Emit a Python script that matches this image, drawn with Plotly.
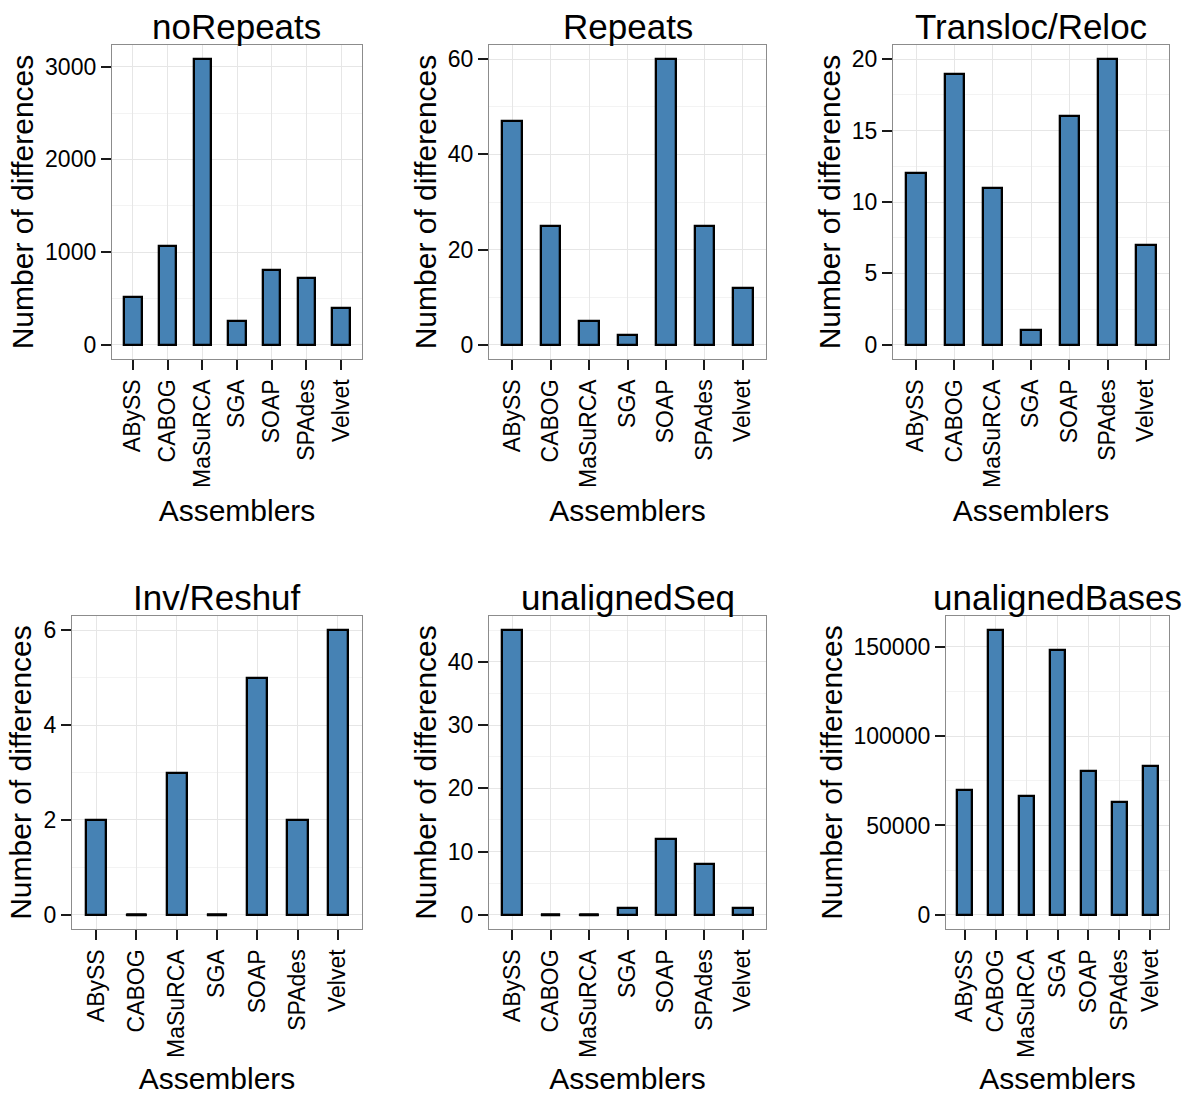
import plotly.graph_objects as go

assemblers = ["ABySS", "CABOG", "MaSuRCA", "SGA", "SOAP", "SPAdes", "Velvet"]

panel_titles = ["noRepeats", "Repeats", "Transloc/Reloc",
                "Inv/Reshuf", "unalignedSeq", "unalignedBases"]

no_repeats = [510, 1065, 3080, 255, 805, 715, 395]
repeats = [47, 25, 5, 2, 60, 25, 12]
transloc_reloc = [12, 19, 11, 1, 16, 20, 7]
inv_reshuf = [2, 0, 3, 0, 5, 2, 6]
unaligned_seq = [45, 0, 0, 1, 12, 8, 1]
unaligned_bases = [69800, 159300, 66700, 148100, 80400, 62900, 83500]

series = [no_repeats, repeats, transloc_reloc, inv_reshuf, unaligned_seq, unaligned_bases]
major_dtick = [1000, 20, 5, 2, 10, 50000]

x_label = "Assemblers"
y_label = "Number of differences"

W, H = 1195, 1095
# panel rectangles in page pixels: (left, right, top, bottom)
panels_px = [
    (112, 362, 45, 359),
    (489, 766, 45, 359),
    (893, 1169, 45, 359),
    (72, 362, 616, 929),
    (489, 766, 616, 929),
    (946, 1169, 616, 929),
]

FONT = "Liberation Sans, Arial, Helvetica, sans-serif"
BAR_W = 0.5

fig = go.Figure()
annotations = []

for i, (vals, rect) in enumerate(zip(series, panels_px)):
    n = i + 1
    xa = "x" if n == 1 else f"x{n}"
    ya = "y" if n == 1 else f"y{n}"
    xs = list(range(len(assemblers)))
    fig.add_trace(go.Bar(
        x=xs, y=vals, width=BAR_W, xaxis=xa, yaxis=ya,
        marker=dict(color="#4682B4", line=dict(color="black", width=2.3)),
        showlegend=False, hoverinfo="x+y",
    ))
    # zero-height bars are drawn by ggplot as a flat outline
    zx, zy = [], []
    for xi, v in zip(xs, vals):
        if v == 0:
            zx += [xi - BAR_W / 2, xi + BAR_W / 2, None]
            zy += [0, 0, None]
    if zx:
        fig.add_trace(go.Scatter(
            x=zx, y=zy, mode="lines", xaxis=xa, yaxis=ya,
            line=dict(color="black", width=3), showlegend=False, hoverinfo="skip",
        ))

    l, r, t, b = rect
    xdom = [l / W, r / W]
    ydom = [1 - b / H, 1 - t / H]
    vmax = max(vals)
    yr = [-0.05 * vmax, 1.05 * vmax]
    dt = major_dtick[i]

    axis_common = dict(
        showline=True, mirror=True, linecolor="#8c8c8c", linewidth=1.3,
        ticks="outside", ticklen=10, tickwidth=2, tickcolor="#1a1a1a",
        tickfont=dict(family=FONT, size=23, color="black"),
        zeroline=False,
        title_font=dict(family=FONT, size=30, color="black"),
    )
    fig.update_layout({
        ("xaxis" if n == 1 else f"xaxis{n}"): dict(
            domain=xdom, anchor=ya, range=[-0.6, 6.6],
            tickmode="array", tickvals=xs, ticktext=assemblers, tickangle=-90,
            showgrid=True, gridcolor="#E6E6E6", gridwidth=1,
            title=dict(text=x_label, standoff=12),
            **axis_common,
        ),
        ("yaxis" if n == 1 else f"yaxis{n}"): dict(
            domain=ydom, anchor=xa, range=yr,
            tickmode="linear", tick0=0, dtick=dt, tickformat="d",
            showgrid=True, gridcolor="#E6E6E6", gridwidth=1,
            minor=dict(showgrid=True, dtick=dt / 2, tick0=0, gridcolor="#F3F3F3",
                       gridwidth=1, ticks=""),
            title=dict(text=y_label, standoff=2),
            **axis_common,
        ),
    })
    annotations.append(dict(
        text=panel_titles[i], xref="paper", yref="paper",
        x=(xdom[0] + xdom[1]) / 2, y=ydom[1], xanchor="center", yanchor="bottom",
        yshift=-2, showarrow=False, borderpad=0,
        font=dict(family=FONT, size=35, color="black"),
    ))

fig.update_layout(
    width=W, height=H, autosize=False,
    margin=dict(l=0, r=0, t=0, b=0),
    paper_bgcolor="white", plot_bgcolor="white",
    annotations=annotations, bargap=0, hovermode=False,
    font=dict(family=FONT, color="black"),
)

# remove the browser's default body margin so the figure fills the window exactly
fig.write_html(
    "out.html",
    config={"displayModeBar": False},
    post_script="document.body.style.margin='0';document.body.style.overflow='hidden';",
)
